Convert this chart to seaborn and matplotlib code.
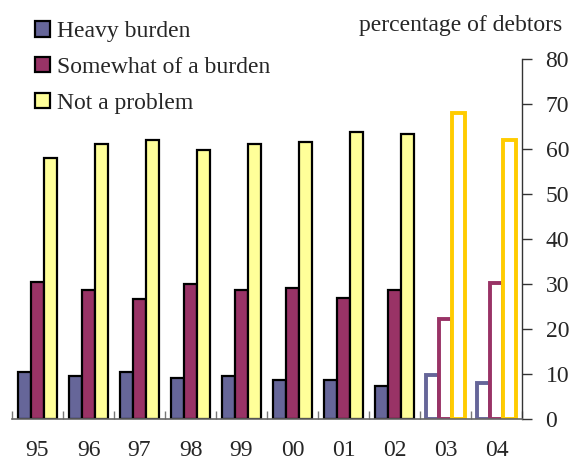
import matplotlib
matplotlib.use("Agg")
import matplotlib.pyplot as plt
import seaborn as sns
import pandas as pd
from matplotlib.patches import Patch

years = ["95", "96", "97", "98", "99", "00", "01", "02", "03", "04"]
heavy = [10.4, 9.6, 10.4, 9.1, 9.6, 8.7, 8.7, 7.3, 9.7, 8.0]
somewhat = [30.4, 28.7, 26.7, 30.0, 28.7, 29.1, 26.9, 28.7, 22.2, 30.2]
not_problem = [58.0, 61.1, 62.0, 59.8, 61.1, 61.6, 63.8, 63.3, 68.0, 62.0]
series = ["Heavy burden", "Somewhat of a burden", "Not a problem"]
projected = ["03", "04"]

fill_colors = ["#666699", "#993366", "#FFFF99"]
outline_colors = ["#666699", "#993366", "#FFCC00"]

df = pd.DataFrame({
    "year": years * 3,
    "series": [series[0]] * len(years) + [series[1]] * len(years) + [series[2]] * len(years),
    "value": heavy + somewhat + not_problem,
})

sns.set_style("white")
plt.rcParams["font.family"] = ["Liberation Serif", "DejaVu Serif"]

fig = plt.figure(figsize=(5.70, 4.63), dpi=100)
ax = fig.add_axes([12 / 570, 44 / 463, 510 / 570, 360 / 463])

sns.barplot(data=df, x="year", y="value", hue="series", order=years,
            hue_order=series, palette=fill_colors, saturation=1, width=0.78, gap=0,
            edgecolor="black", linewidth=1.6, legend=False, ax=ax)

for cont, oc in zip(ax.containers, outline_colors):
    for yr, bar in zip(years, cont.patches):
        if yr in projected:
            bar.set_facecolor("white")
            bar.set_edgecolor(oc)
            bar.set_linewidth(2.8)

ax.set_xlim(-0.5, len(years) - 0.5)
ax.set_ylim(0, 80)
ax.set_xlabel("")
ax.set_ylabel("")

# right-hand value axis
ax.yaxis.tick_right()
ax.set_yticks(range(0, 81, 10))
ax.tick_params(axis="y", direction="out", length=7, width=1, color="#333333",
               labelsize=17, pad=10, right=True, left=False)
for side in ["top", "left"]:
    ax.spines[side].set_visible(False)
ax.spines["right"].set_color("#333333")
ax.spines["right"].set_linewidth(1)
ax.spines["bottom"].set_color("#666666")
ax.spines["bottom"].set_linewidth(1.2)

# category labels centred, separators between groups
ax.set_xticks([i - 0.5 for i in range(len(years) + 1)])
ax.set_xticklabels([])
ax.tick_params(axis="x", which="major", direction="in", length=6, width=1,
               color="#777777", bottom=True)
ax.set_xticks(range(len(years)), minor=True)
ax.set_xticklabels(years, minor=True)
ax.tick_params(axis="x", which="minor", length=0, labelsize=17, pad=15)

fig.text(562 / 570, 1 - 25 / 463, "percentage of debtors", ha="right",
         va="center", fontsize=17)

handles = [Patch(facecolor=c, edgecolor="black", linewidth=1.6) for c in fill_colors]
fig.legend(handles, series, loc="upper left", bbox_to_anchor=(26 / 570, 1 - 12 / 463),
           frameon=False, fontsize=17, handlelength=0.62, handleheight=0.62,
           handletextpad=0.3, labelspacing=0.62, borderaxespad=0)

fig.savefig("out.png", dpi=100)
